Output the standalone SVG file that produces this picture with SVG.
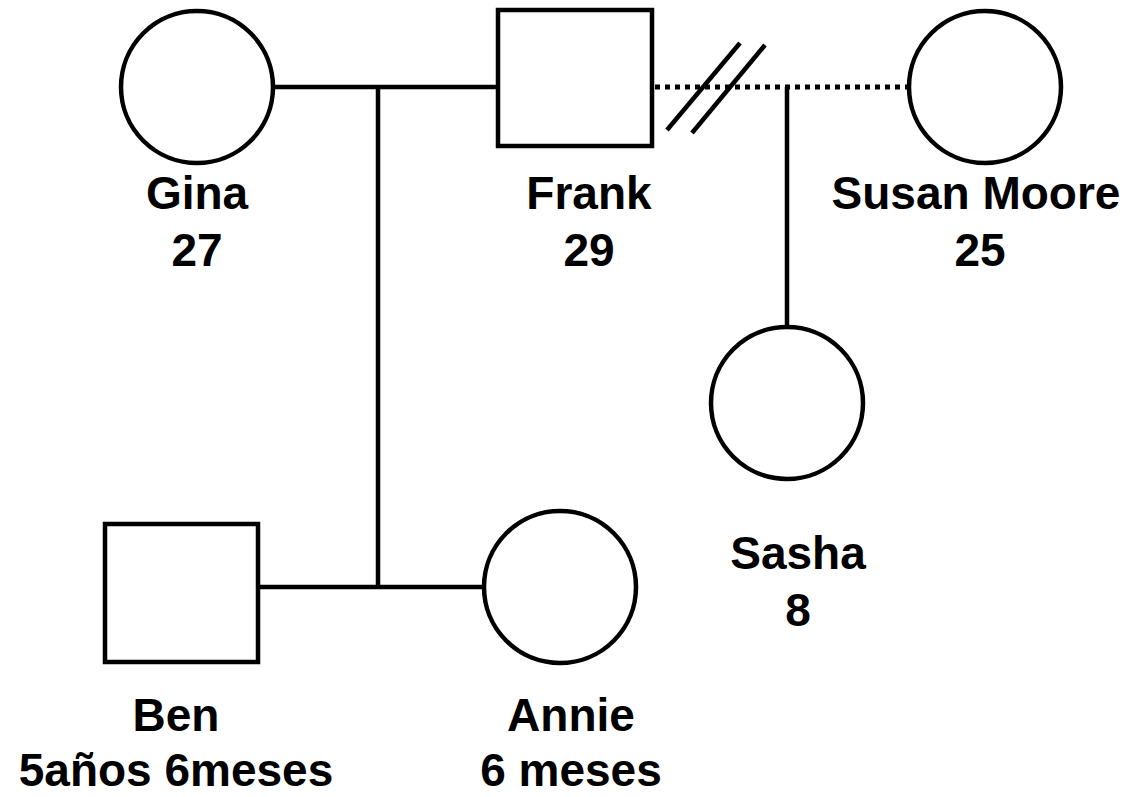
<svg xmlns="http://www.w3.org/2000/svg" width="1138" height="797" viewBox="0 0 1138 797">
<style>
.shape{fill:#fff;stroke:#000;stroke-width:4.5}
.ln{fill:none;stroke:#000;stroke-width:4.5}
.dot{fill:none;stroke:#000;stroke-width:5;stroke-dasharray:5 5}
.lbl{font-family:"Liberation Sans",Arial,sans-serif;font-weight:bold;font-size:46px;fill:#000;text-anchor:middle}
</style>
<rect width="1138" height="797" fill="#fff"/>
<g id="connectors">
<line class="ln" x1="273" y1="87" x2="498" y2="87"/>
<line class="ln" x1="378" y1="87" x2="378" y2="587"/>
<line class="ln" x1="258" y1="587" x2="484" y2="587"/>
<line class="dot" x1="655" y1="87" x2="909" y2="87"/>
<line class="ln" x1="787" y1="87" x2="787" y2="327"/>
<line class="ln" x1="667" y1="130" x2="740" y2="43"/>
<line class="ln" x1="692" y1="133" x2="765" y2="45"/>
</g>
<g id="gina">
<circle class="shape" cx="197" cy="87" r="76"/>
<text class="lbl" x="197" y="209">Gina</text>
<text class="lbl" x="197" y="266">27</text>
</g>
<g id="frank">
<rect class="shape" x="498" y="10" width="154" height="136"/>
<text class="lbl" x="589" y="209">Frank</text>
<text class="lbl" x="589" y="266">29</text>
</g>
<g id="susan">
<circle class="shape" cx="985" cy="87" r="76"/>
<text class="lbl" x="976" y="209">Susan Moore</text>
<text class="lbl" x="980" y="266">25</text>
</g>
<g id="sasha">
<circle class="shape" cx="787" cy="403" r="76"/>
<text class="lbl" x="798" y="569">Sasha</text>
<text class="lbl" x="798" y="626">8</text>
</g>
<g id="ben">
<rect class="shape" x="105" y="524" width="153" height="138"/>
<text class="lbl" x="176" y="731">Ben</text>
<text class="lbl" x="176" y="786">5años 6meses</text>
</g>
<g id="annie">
<circle class="shape" cx="560" cy="587" r="76"/>
<text class="lbl" x="571" y="731">Annie</text>
<text class="lbl" x="571" y="786">6 meses</text>
</g>
</svg>
